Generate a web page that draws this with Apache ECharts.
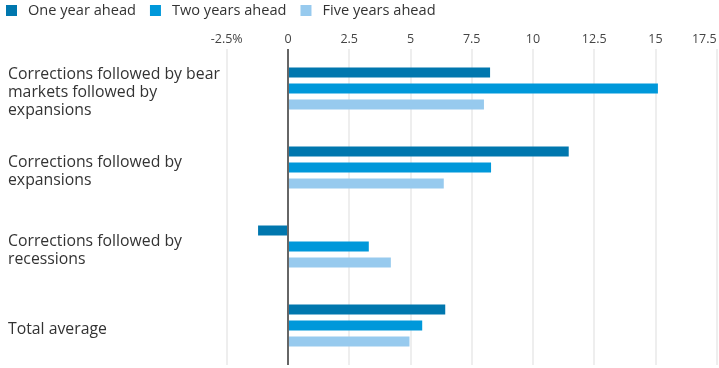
<!DOCTYPE html>
<html>
<head>
<meta charset="utf-8">
<script src="https://cdn.jsdelivr.net/npm/echarts@6/dist/echarts.min.js"></script>
<style>html,body{margin:0;padding:0;background:#fff}#c{width:719px;height:368px}</style>
</head>
<body>
<div id="c"></div>
<script>
var categories = [
  'Corrections followed by bear\nmarkets followed by\nexpansions',
  'Corrections followed by\nexpansions',
  'Corrections followed by\nrecessions',
  'Total average'
];
var seriesNames = ['One year ahead', 'Two years ahead', 'Five years ahead'];
var oneYear = [8.25, 11.46, -1.22, 6.42];
var twoYears = [15.1, 8.29, 3.3, 5.48];
var fiveYears = [8.0, 6.36, 4.2, 4.96];
var tickLabels = {'-2.5': '-2.5%', '0': '0', '2.5': '2.5', '5': '5', '7.5': '7.5', '10': '10', '12.5': '12.5', '15': '15', '17.5': '17.5'};
var colors = ['#0077AE', '#0098DA', '#97CAEE'];
var FONT = 'Open Sans';

var chart = echarts.init(document.getElementById('c'));
function bar(name, data, color, extra) {
  var s = {
    name: name, type: 'bar', data: data, barWidth: 10, barGap: '60%',
    itemStyle: { color: color }
  };
  if (extra) for (var k in extra) s[k] = extra[k];
  return s;
}
chart.setOption({
  animation: false,
  textStyle: { fontFamily: FONT },
  color: colors,
  legend: {
    left: 1, top: -2, icon: 'rect', itemWidth: 11, itemHeight: 11, itemGap: 14,
    textStyle: { fontFamily: FONT, fontSize: 14.6, color: '#333', padding: [0, 0, 0, 6] },
    data: seriesNames
  },
  grid: [
    { left: 226.7, right: 2.3, top: 49, bottom: 3, containLabel: false, outerBoundsMode: 'none' },
    { left: 226.7, right: 2.3, top: 53, bottom: -1, containLabel: false, outerBoundsMode: 'none' }
  ],
  xAxis: [{
    type: 'value', position: 'top', min: -2.5, max: 17.5, interval: 2.5, gridIndex: 0,
    axisLine: { show: false }, axisTick: { show: false },
    axisLabel: { color: '#444', fontSize: 12.5, margin: 3, fontFamily: FONT, alignMaxLabel: 'right',
      formatter: function (v) { return tickLabels[String(v)] !== undefined ? tickLabels[String(v)] : String(v); } },
    splitLine: { lineStyle: { color: '#e8e8e8', width: 1.5 } }
  }, {
    type: 'value', gridIndex: 1, min: -2.5, max: 17.5, show: false
  }],
  yAxis: [{
    type: 'category', data: categories, inverse: true, gridIndex: 0,
    axisLine: { show: false, onZero: false }, axisTick: { show: false }, axisLabel: { show: false }
  }, {
    type: 'category', data: categories, inverse: true, gridIndex: 1,
    axisLine: { show: false, onZero: false }, axisTick: { show: false }, splitLine: { show: false },
    axisLabel: { align: 'left', margin: 218.7, fontSize: 15.8, lineHeight: 18, color: '#333', fontFamily: FONT }
  }],
  series: [
    bar(seriesNames[0], oneYear, colors[0], {
      markLine: { silent: true, symbol: 'none', label: { show: false },
        lineStyle: { color: '#666', width: 2, type: 'solid' }, data: [{ xAxis: 0 }] }
    }),
    bar(seriesNames[1], twoYears, colors[1]),
    bar(seriesNames[2], fiveYears, colors[2])
  ]
});
</script>
</body>
</html>
